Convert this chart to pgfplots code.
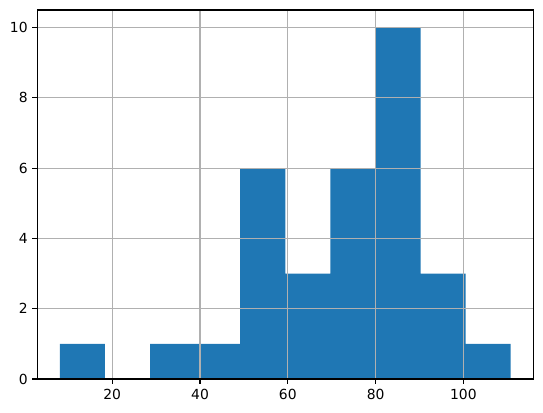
\documentclass[border=0pt]{standalone}
\usepackage{fontspec}
\setmainfont{DejaVu Sans}
\usepackage{pgfplots}
\pgfplotsset{compat=1.18}
\definecolor{mplblue}{HTML}{1F77B4}
\definecolor{gridgray}{HTML}{B0B0B0}

\begin{document}
\begin{tikzpicture}
\begin{axis}[
  scale only axis,
  width=357.1pt,
  height=265.7pt,
  xmin=2.94, xmax=115.92,
  ymin=0, ymax=10.5,
  xtick={20,40,60,80,100},
  ytick={0,2,4,6,8,10},
  grid=major,
  major grid style={gridgray, line width=0.8pt},
  axis line style={line width=0.8pt},
  tick style={black, line width=0.8pt},
  tick align=outside,
  major tick length=3.5pt,
  xtick pos=bottom, ytick pos=left,
  axis on top,
  tick label style={font=\fontsize{10}{12}\selectfont},
  /pgf/number format/assume math mode=true,
]
\addplot[ybar interval, fill=mplblue, draw=none] coordinates {
  (8.08,1) (18.35,0) (28.62,1) (38.89,1) (49.16,6) (59.43,3)
  (69.70,6) (79.97,10) (90.24,3) (100.51,1) (110.78,1)
};
\end{axis}
\useasboundingbox ([shift={(-26.9pt,-24.3pt)}]current axis.south west)
  rectangle ([shift={(7pt,7.2pt)}]current axis.north east);
\end{tikzpicture}
\end{document}
